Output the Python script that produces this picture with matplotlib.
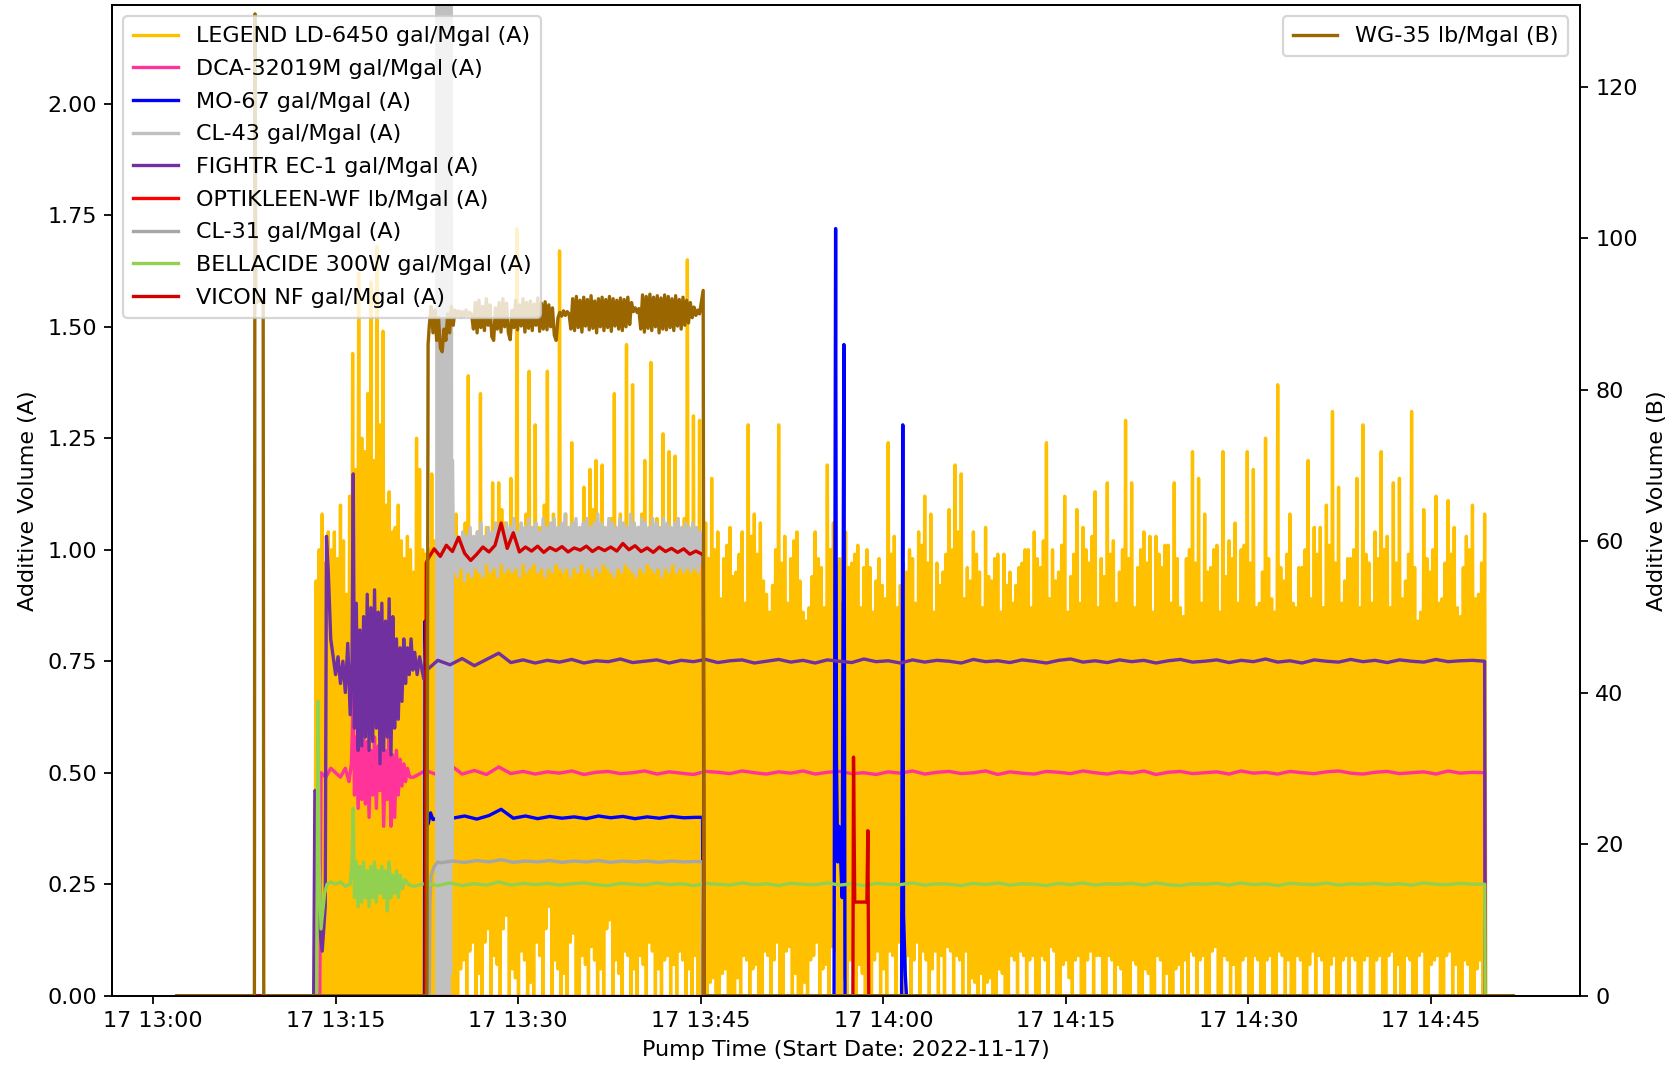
import numpy as np
import pandas as pd
import matplotlib
matplotlib.use("Agg")
import matplotlib.pyplot as plt
import matplotlib.dates as mdates

START = pd.Timestamp("2022-11-17 13:00:00")
T_FIRST, T_LAST = 2.0, 111.7      # minutes after 13:00 covered by the log

# ---- LEGEND LD-6450 (A): peak / trough per 15 s sample, hundredths ----
yellow_hi_a = [93, 100, 108, 97, 104, 100, 104, 98, 110, 102, 90, 112, 144, 118, 162, 125, 122, 135, 160, 120,
               168, 128, 149, 110, 113, 104, 105, 110, 102, 98, 103, 100, 95, 125, 118, 100, 99]
yellow_lo_a = [0, 0, 0, 0, 0, 0, 0, 0, 0, 0, 0, 0, 0, 0, 0, 0, 0, 0, 0, 0,
               0, 0, 0, 0, 0, 0, 0, 0, 0, 0, 0, 0, 0, 0, 0, 0, 0]
yellow_hi_b = [100, 117, 102, 100, 104, 107, 101, 102, 99, 108, 102, 103, 106, 139, 101, 98, 104, 135, 100, 105,
               103, 115, 102, 115, 109, 106, 103, 116, 100, 172, 104, 102, 108, 140, 103, 128, 105, 105, 110, 140,
               102, 108, 104, 167, 101, 108, 103, 124, 106, 104, 102, 114, 104, 118, 109, 120, 103, 119, 101, 103,
               107, 135, 102, 108, 104, 146, 105, 137, 102, 105, 108, 120, 103, 142, 105, 107, 102, 126, 104, 122,
               103, 121, 102, 104, 107, 165, 104, 130, 103, 129]
yellow_lo_b = [0, 0, 0, 0, 0, 0, 0, 0, 0, 0,
               6, 8, 0, 10, 12, 0, 5, 0, 12, 15,
               0, 9, 7, 0, 15, 18, 0, 6, 4, 0,
               10, 8, 0, 3, 0, 12, 9, 0, 15, 20,
               0, 8, 6, 0, 5, 0, 12, 14, 0, 0,
               9, 7, 0, 11, 8, 0, 6, 0, 15, 17,
               0, 8, 5, 0, 10, 9, 0, 6, 0, 9,
               7, 0, 12, 10, 0, 6, 0, 8, 9, 0,
               7, 0, 10, 8, 0, 6, 0, 9, 0, 0]
yellow_hi_c = [102,
               106, 98, 116, 100, 104, 89, 98, 101, 105, 94, 95, 99, 104, 88, 128, 103, 108, 99, 106, 93,
               90, 86, 92, 100, 128, 97, 103, 88, 98, 102, 104, 93, 86, 84, 87, 94, 104, 98, 96, 87,
               119, 100, 106, 97, 98, 88, 104, 96, 97, 99, 101, 87, 96, 100, 96, 86, 93, 98, 92, 89,
               124, 99, 103, 87, 92, 97, 95, 100, 98, 88, 104, 101, 112, 97, 108, 86, 97, 92, 95, 99,
               109, 100, 119, 104, 117, 89, 96, 93, 104, 99, 95, 87, 105, 94, 93, 98, 99, 86, 99, 92,
               95, 88, 92, 96, 97, 100, 100, 87, 104, 98, 96, 102, 124, 89, 100, 93, 95, 101, 112, 86,
               94, 99, 109, 88, 105, 100, 97, 103, 113, 87, 98, 94, 115, 99, 102, 88, 95, 100, 129, 98,
               115, 87, 96, 100, 104, 97, 103, 86, 103, 99, 96, 101, 101, 88, 115, 98, 87, 85, 98, 100,
               122, 97, 116, 88, 108, 95, 96, 100, 101, 86, 122, 94, 102, 98, 106, 88, 100, 101, 122, 97,
               118, 87, 88, 95, 125, 98, 89, 86, 137, 96, 93, 99, 108, 88, 87, 96, 96, 100, 120, 89,
               105, 99, 105, 87, 110, 101, 131, 97, 114, 88, 93, 98, 98, 100, 116, 87, 128, 99, 97, 88,
               104, 98, 122, 100, 103, 87, 115, 97, 116, 89, 93, 99, 131, 96, 84, 86, 109, 98, 95, 100,
               112, 88, 89, 97, 111, 99, 105, 87, 85, 96, 103, 100, 110, 89, 90, 97, 108]
yellow_lo_c = [0, 0, 3, 4, 0, 0, 5, 6, 0, 0, 0, 4, 0, 9, 8, 0, 6, 7, 0, 0,
               10, 9, 0, 8, 12, 0, 0, 10, 11, 0, 5, 0, 0, 3, 0, 8, 9, 12, 0, 6,
               7, 0, 11, 10, 0, 0, 4, 0, 8, 9, 0, 7, 5, 0, 9, 0, 8, 10, 0, 6,
               0, 10, 9, 0, 12, 8, 0, 9, 0, 8, 12, 0, 10, 8, 0, 6, 10, 0, 9, 0,
               11, 10, 0, 9, 8, 0, 10, 0, 4, 3, 0, 5, 0, 3, 4, 0, 0, 6, 5, 0,
               0, 9, 8, 0, 10, 9, 0, 8, 9, 0, 0, 9, 8, 0, 11, 10, 0, 0, 7, 8,
               4, 0, 8, 9, 0, 0, 8, 10, 0, 9, 9, 0, 0, 9, 8, 0, 7, 6, 0, 0,
               0, 8, 7, 0, 0, 6, 5, 0, 0, 9, 8, 0, 5, 0, 0, 6, 7, 0, 8, 0,
               10, 9, 0, 8, 9, 0, 0, 10, 11, 0, 0, 9, 8, 0, 7, 0, 0, 8, 9, 0,
               0, 9, 8, 0, 0, 8, 9, 0, 0, 10, 9, 0, 8, 0, 0, 9, 8, 0, 0, 7,
               10, 0, 9, 8, 0, 0, 7, 9, 0, 0, 8, 9, 0, 9, 8, 0, 0, 8, 9, 0,
               0, 8, 9, 0, 0, 9, 10, 0, 7, 0, 0, 9, 8, 0, 0, 9, 10, 0, 0, 7,
               8, 9, 0, 0, 9, 10, 0, 7, 0, 0, 8, 7, 0, 0, 6, 8, 0, 0]

# ---- DCA-32019M (A) ----
pink_pts = [(T_FIRST, 0), (13.7, 0), (13.8, 0.50), (14.2, 0.49), (14.6, 0.51), (15.0, 0.50), (15.4, 0.49),
            (15.8, 0.51), (16.1, 0.48), (16.3, 0.52), (16.45, 0.67), (16.55, 0.45), (16.7, 0.58), (16.85, 0.42),
            (17.0, 0.56), (17.15, 0.44), (17.3, 0.60), (17.45, 0.43), (17.6, 0.57), (17.75, 0.40), (17.9, 0.55),
            (18.05, 0.45), (18.2, 0.58), (18.35, 0.42), (18.5, 0.56), (18.65, 0.46), (18.8, 0.57), (18.95, 0.38),
            (19.1, 0.55), (19.25, 0.44), (19.4, 0.58), (19.55, 0.38), (19.7, 0.54), (19.85, 0.40), (20.0, 0.55),
            (20.15, 0.45), (20.3, 0.53), (20.45, 0.47), (20.6, 0.52), (20.75, 0.48), (20.9, 0.51), (21.1, 0.49),
            (109.45, 0), (T_LAST, 0)]
pink_flat = [0.490, 0.505, 0.495, 0.518, 0.497, 0.505, 0.496, 0.513, 0.498, 0.503,
             0.497, 0.502, 0.499, 0.504, 0.496, 0.501, 0.503, 0.498, 0.500, 0.504,
             0.497, 0.502, 0.499, 0.496, 0.503, 0.501, 0.498, 0.504, 0.500, 0.497,
             0.502, 0.499, 0.504, 0.497, 0.501, 0.503, 0.498, 0.500, 0.496, 0.502,
             0.499, 0.504, 0.497, 0.501, 0.503, 0.498, 0.500, 0.504, 0.496, 0.502,
             0.499, 0.497, 0.503, 0.501, 0.498, 0.504, 0.500, 0.497, 0.502, 0.499,
             0.504, 0.496, 0.501, 0.503, 0.498, 0.500, 0.502, 0.497, 0.504, 0.499,
             0.501, 0.497, 0.503, 0.500, 0.498, 0.502, 0.504, 0.499, 0.497, 0.501,
             0.503, 0.498, 0.500, 0.502, 0.497, 0.504, 0.499, 0.501, 0.500]

# ---- MO-67 (A) ----
blue_pts = [(T_FIRST, 0), (22.3, 0), (22.35, 0.84), (22.42, 0.72), (22.5, 0.40), (22.6, 0.385), (22.8, 0.41),
            (23.0, 0.395), (45.15, 0.40), (45.2, 0), (55.95, 0), (56.08, 1.72), (56.15, 0.53), (56.25, 0.30),
            (56.35, 0.38), (56.5, 0.30), (56.62, 0.22), (56.76, 1.46), (56.85, 0), (61.5, 0), (61.6, 1.28),
            (61.66, 0.18), (61.8, 0.05), (61.9, 0), (T_LAST, 0)]
blue_flat = [0.400, 0.398, 0.403, 0.396, 0.404, 0.418, 0.398, 0.403, 0.397, 0.402, 0.398,
             0.401, 0.397, 0.403, 0.399, 0.402, 0.397, 0.401, 0.398, 0.402, 0.399, 0.400]

# ---- CL-43 (A) ----
silver_pts = [(T_FIRST, 0), (23.3, 0), (45.2, 0.99), (45.25, 0), (T_LAST, 0)]
silver_burst = [2.30, 0.00, 2.50, 0.20, 2.45, 0.00, 2.60, 0.10, 2.40, 0.05, 2.55, 0.00, 2.50,
                0.15, 2.45, 0.00, 2.60, 0.10, 2.40, 0.00, 2.50, 0.05, 2.55, 0.30, 1.20]
silver_flat = [0.95, 1.03, 0.94, 1.02, 0.96, 1.04, 0.93, 1.03, 0.95, 1.05,
               0.94, 1.03, 0.96, 1.04, 0.95, 1.06, 0.94, 1.03, 0.97, 1.05,
               0.95, 1.04, 0.96, 1.06, 0.94, 1.05, 0.97, 1.04, 0.95, 1.06,
               0.96, 1.05, 0.95, 1.07, 0.96, 1.04, 0.94, 1.06, 0.97, 1.05,
               0.95, 1.07, 0.96, 1.05, 0.97, 1.06, 0.95, 1.04, 0.96, 1.07,
               0.94, 1.05, 0.96, 1.06, 0.95, 1.07, 0.97, 1.05, 0.96, 1.06,
               0.95, 1.08, 0.96, 1.05, 0.94, 1.06, 0.96, 1.07, 0.95, 1.05,
               0.97, 1.06, 0.95, 1.07, 0.96, 1.05, 0.94, 1.06, 0.96, 1.08,
               0.95, 1.06, 0.97, 1.05, 0.96, 1.07, 0.95, 1.06, 0.94, 1.05,
               0.96, 1.07, 0.95, 1.06, 0.97, 1.05, 0.96, 1.08, 0.95, 1.06,
               0.94, 1.05, 0.96, 1.07, 0.95, 1.06, 0.97, 1.05, 0.96, 1.07,
               0.95, 1.06, 0.96, 1.05, 0.94, 1.07, 0.96, 1.06, 0.95, 1.05,
               0.97, 1.06, 0.95, 1.07, 0.96, 1.05, 0.95, 1.06, 0.96, 1.05,
               0.95, 1.06, 0.96, 1.05, 0.95, 1.04, 0.97]

# ---- FIGHTR EC-1 (A) ----
purple_pts = [(T_FIRST, 0), (13.2, 0), (13.3, 0.46), (13.55, 0.45), (13.7, 0.15), (13.9, 0.10), (14.15, 0.20),
              (14.25, 1.03), (14.4, 0.95), (14.6, 0.80), (14.8, 0.76), (15.0, 0.72), (15.2, 0.76), (15.4, 0.70),
              (15.6, 0.75), (15.8, 0.68), (16.0, 0.79), (16.2, 0.63), (16.35, 0.75), (16.45, 1.17), (16.55, 0.60),
              (16.7, 0.88), (16.85, 0.55), (17.0, 0.82), (17.15, 0.56), (17.3, 0.85), (17.45, 0.58), (17.6, 0.90),
              (17.75, 0.55), (17.9, 0.87), (18.05, 0.57), (18.2, 0.91), (18.35, 0.60), (18.5, 0.86), (18.65, 0.52),
              (18.8, 0.88), (18.95, 0.55), (19.1, 0.84), (19.25, 0.58), (19.4, 0.89), (19.55, 0.54), (19.7, 0.85),
              (19.85, 0.60), (20.0, 0.80), (20.15, 0.62), (20.3, 0.78), (20.45, 0.66), (20.6, 0.80), (20.75, 0.70),
              (20.9, 0.78), (21.05, 0.72), (21.2, 0.80), (21.35, 0.73), (21.5, 0.77), (21.7, 0.72), (21.9, 0.76),
              (22.1, 0.73), (22.25, 0.71), (109.45, 0), (T_LAST, 0)]
purple_flat = [0.728, 0.752, 0.742, 0.756, 0.740, 0.754, 0.768, 0.747, 0.753, 0.746,
               0.752, 0.748, 0.754, 0.746, 0.751, 0.749, 0.755, 0.747, 0.750, 0.753,
               0.746, 0.752, 0.749, 0.754, 0.747, 0.751, 0.753, 0.746, 0.750, 0.754,
               0.748, 0.752, 0.746, 0.753, 0.750, 0.747, 0.755, 0.749, 0.751, 0.746,
               0.753, 0.748, 0.752, 0.750, 0.746, 0.754, 0.749, 0.751, 0.747, 0.753,
               0.750, 0.746, 0.752, 0.755, 0.748, 0.751, 0.747, 0.753, 0.749, 0.752,
               0.746, 0.751, 0.754, 0.748, 0.750, 0.753, 0.747, 0.752, 0.749, 0.755,
               0.748, 0.751, 0.746, 0.753, 0.750, 0.748, 0.754, 0.749, 0.752, 0.747,
               0.753, 0.750, 0.748, 0.754, 0.749, 0.751, 0.752, 0.750]

# ---- OPTIKLEEN-WF (A) ----
red_pts = [(T_FIRST, 0), (T_LAST, 0)]

# ---- CL-31 (A) ----
dgray_pts = [(T_FIRST, 0), (22.7, 0), (22.75, 0.21), (22.85, 0.27), (23.1, 0.29), (23.4, 0.30),
             (45.15, 0.30), (45.2, 0), (T_LAST, 0)]
dgray_flat = [0.298, 0.302, 0.299, 0.303, 0.300, 0.305, 0.299, 0.302, 0.300, 0.303, 0.299,
              0.302, 0.300, 0.303, 0.299, 0.302, 0.300, 0.302, 0.299, 0.302, 0.300, 0.301]

# ---- BELLACIDE 300W (A) ----
green_pts = [(T_FIRST, 0), (13.45, 0), (13.55, 0.66), (13.65, 0.30), (13.8, 0.15), (13.95, 0.19), (14.1, 0.23),
             (14.3, 0.25), (14.6, 0.255), (15.0, 0.25), (15.4, 0.255), (15.8, 0.245), (16.2, 0.25), (16.35, 0.30),
             (16.45, 0.42), (16.55, 0.22), (16.7, 0.30), (16.85, 0.20), (17.0, 0.29), (17.15, 0.21), (17.3, 0.30),
             (17.45, 0.22), (17.6, 0.28), (17.75, 0.20), (17.9, 0.29), (18.05, 0.22), (18.2, 0.30), (18.35, 0.21),
             (18.5, 0.28), (18.65, 0.23), (18.8, 0.29), (18.95, 0.22), (19.1, 0.28), (19.25, 0.19), (19.4, 0.30),
             (19.55, 0.22), (19.7, 0.27), (19.85, 0.23), (20.0, 0.28), (20.15, 0.22), (20.3, 0.27), (20.5, 0.24),
             (20.7, 0.26), (21.0, 0.25), (109.45, 0), (T_LAST, 0)]
green_flat = [0.245, 0.252, 0.247, 0.253, 0.247, 0.251, 0.248, 0.255, 0.248, 0.252,
              0.249, 0.252, 0.248, 0.251, 0.253, 0.249, 0.247, 0.252, 0.250, 0.248,
              0.253, 0.249, 0.251, 0.247, 0.252, 0.250, 0.248, 0.253, 0.249, 0.251,
              0.247, 0.252, 0.250, 0.249, 0.253, 0.248, 0.251, 0.247, 0.252, 0.250,
              0.249, 0.253, 0.248, 0.251, 0.250, 0.247, 0.252, 0.249, 0.253, 0.248,
              0.251, 0.250, 0.247, 0.252, 0.249, 0.253, 0.248, 0.251, 0.250, 0.252,
              0.248, 0.253, 0.249, 0.247, 0.251, 0.250, 0.252, 0.248, 0.253, 0.249,
              0.251, 0.247, 0.252, 0.250, 0.249, 0.253, 0.248, 0.251, 0.250, 0.252,
              0.249, 0.251, 0.248, 0.253, 0.250, 0.249, 0.252, 0.250, 0.250]

# ---- VICON NF (A) ----
vicon_pts = [(T_FIRST, 0), (22.35, 0), (22.45, 0.97), (45.2, 0.99), (45.28, 0), (57.5, 0), (57.55, 0.535),
             (57.65, 0.21), (58.65, 0.21), (58.73, 0.37), (58.8, 0), (T_LAST, 0)]
vicon_flat = [0.980, 1.002, 0.985, 1.010, 0.996, 1.028, 0.992, 0.976, 0.990, 1.006,
              0.995, 1.010, 1.060, 1.003, 1.038, 0.995, 1.006, 0.997, 1.008, 0.994,
              1.005, 0.998, 1.007, 0.995, 1.004, 0.999, 1.008, 0.996, 1.005, 0.998,
              1.006, 0.997, 1.014, 1.000, 1.009, 0.996, 1.004, 0.994, 1.006, 0.996,
              1.003, 0.994, 1.002, 0.990, 0.997, 0.990]

# ---- WG-35 (B) ----
brown_pts = [(T_FIRST, 0), (8.33, 0), (8.38, 129.6), (8.45, 91.5), (9.05, 92.0), (9.1, 0), (22.5, 0),
             (22.6, 86.0), (45.2, 93.1), (45.28, 0), (T_LAST, 0)]
brown_flat = [88.5, 91.0, 87.5, 90.5, 86.5, 89.5, 85.5, 85.0, 88.0, 86.5, 90.0, 87.5, 91.0, 88.5, 90.5,
              89.8, 90.4, 89.6, 90.3, 89.7, 90.5, 89.8, 90.2, 89.9,
              88.0, 91.5, 87.5, 91.8, 88.2, 91.0, 87.8, 92.0, 88.5, 91.2, 87.0, 86.5, 90.8, 88.0, 91.5, 87.6,
              92.0, 88.3, 91.4, 87.5, 86.6, 90.5, 88.2, 91.8, 87.9, 91.2, 88.4, 92.0, 87.6, 91.5, 88.1, 91.7,
              87.8, 91.3, 88.5, 92.1, 87.7, 91.4, 88.0, 91.6, 87.9, 91.2, 88.3, 90.8, 87.2, 86.5, 89.5,
              90.2, 89.7, 90.4, 89.8, 90.3, 90.0,
              88.0, 92.0, 87.8, 92.3, 88.2, 91.8, 87.6, 92.2, 88.4, 91.9, 87.9, 92.4, 88.1, 91.7, 87.5, 92.0,
              88.3, 92.2, 87.8, 91.9, 88.2, 92.3, 87.7, 92.0, 88.4, 91.8, 88.0, 92.1, 87.8, 91.9, 88.3, 92.2,
              88.6, 91.5,
              90.3, 90.8, 90.2, 90.7,
              88.0, 92.5, 87.6, 92.3, 88.1, 92.6, 87.8, 92.2, 88.3, 92.4, 87.5, 92.1, 88.0, 92.5, 87.9, 92.3,
              88.2, 92.0, 87.8, 92.4, 88.4, 91.9, 88.0, 92.2, 88.5, 91.8, 88.8, 91.5,
              89.5, 90.9, 89.8, 90.5, 90.0]


def to_time(minutes):
    return (START + pd.to_timedelta(np.asarray(minutes, dtype=float), unit="min")).values


def build(points, *grids):
    t = [p[0] for p in points]
    v = [p[1] for p in points]
    for t0, t1, vals in grids:
        t.extend(np.linspace(t0, t1, len(vals)))
        v.extend(vals)
    order = np.argsort(t, kind="stable")
    return to_time(np.array(t)[order]), np.array(v, dtype=float)[order]


def zigzag(t0, t1, hi, lo):
    # one reading per sample time, trough half a step later
    th = np.linspace(t0, t1, len(hi))
    half = (th[1] - th[0]) / 2
    t = np.empty(2 * len(hi))
    v = np.empty(2 * len(hi))
    t[0::2], t[1::2] = th, th + half
    v[0::2], v[1::2] = np.array(hi) / 100, np.array(lo) / 100
    return list(zip(t, v))


yellow_pts = ([(T_FIRST, 0), (13.3, 0)]
              + zigzag(13.4, 22.4, yellow_hi_a, yellow_lo_a)
              + zigzag(22.65, 44.9, yellow_hi_b, yellow_lo_b)
              + zigzag(45.15, 109.4, yellow_hi_c, yellow_lo_c)
              + [(109.5, 0), (T_LAST, 0)])

series_a = [
    ("LEGEND LD-6450 gal/Mgal (A)", "#FFC000", build(yellow_pts)),
    ("DCA-32019M gal/Mgal (A)", "#FF3399", build(pink_pts, (21.4, 109.4, pink_flat))),
    ("MO-67 gal/Mgal (A)", "#0000FF", build(blue_pts, (23.6, 44.6, blue_flat))),
    ("CL-43 gal/Mgal (A)", "#C0C0C0", build(silver_pts, (23.35, 24.6, silver_burst), (24.7, 45.1, silver_flat))),
    ("FIGHTR EC-1 gal/Mgal (A)", "#7030A0", build(purple_pts, (22.4, 109.4, purple_flat))),
    ("OPTIKLEEN-WF lb/Mgal (A)", "#FF0000", build(red_pts)),
    ("CL-31 gal/Mgal (A)", "#A6A6A6", build(dgray_pts, (23.6, 44.6, dgray_flat))),
    ("BELLACIDE 300W gal/Mgal (A)", "#92D050", build(green_pts, (21.4, 109.4, green_flat))),
    ("VICON NF gal/Mgal (A)", "#D40000", build(vicon_pts, (22.6, 45.1, vicon_flat))),
]

fig = plt.figure(figsize=(1677 / 160, 1067 / 160), dpi=160)
ax1 = fig.add_axes([0.067, 0.0668, 0.8749, 0.9282])
ax2 = ax1.twinx()

handles_a = []
for label, color, (t, v) in series_a:
    h, = ax1.plot(t, v, color=color, linewidth=1.5, label=label)
    handles_a.append(h)

bt, bv = build(brown_pts, (22.7, 44.9, brown_flat))
h_b, = ax2.plot(bt, bv, color="#996600", linewidth=1.5, label="WG-35 lb/Mgal (B)")

ax1.set_xlim(to_time([-3.34, 117.2]))
ax1.set_ylim(0, 2.2206)
ax2.set_ylim(0, 130.73)
ax1.xaxis.set_major_locator(mdates.MinuteLocator(byminute=[0, 15, 30, 45]))
ax1.xaxis.set_major_formatter(mdates.DateFormatter("%d %H:%M"))

ax1.set_xlabel("Pump Time (Start Date: 2022-11-17)")
ax1.set_ylabel("Additive Volume (A)")
ax2.set_ylabel("Additive Volume (B)")

leg1 = ax2.legend(handles_a, [h.get_label() for h in handles_a], loc="upper left",
                  labelspacing=0.57, borderpad=0.45)
ax2.add_artist(leg1)
ax2.legend([h_b], [h_b.get_label()], loc="upper right", borderpad=0.45)

fig.savefig("out.png", dpi=160)
plt.close(fig)
